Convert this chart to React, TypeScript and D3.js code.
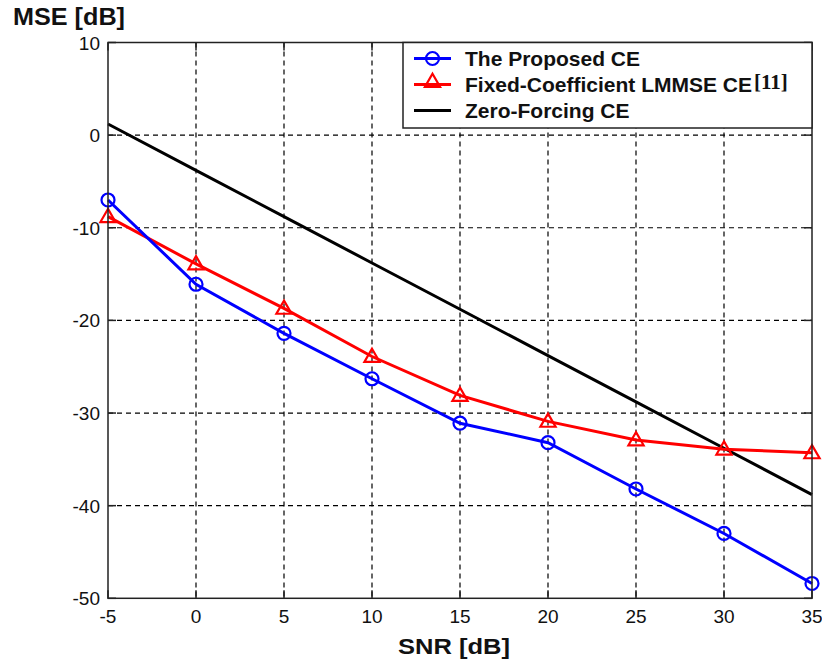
import React from "react";
import * as d3 from "d3";

const snr = [-5, 0, 5, 10, 15, 20, 25, 30, 35];
const proposed = [-7.0, -16.1, -21.4, -26.3, -31.1, -33.2, -38.2, -43.0, -48.4];
const lmmse = [-8.8, -13.9, -18.7, -23.9, -28.1, -30.9, -32.9, -33.9, -34.3];
const zeroForcing = [1.2, -3.8, -8.8, -13.8, -18.8, -23.8, -28.8, -33.8, -38.8];
const xTicks = [-5, 0, 5, 10, 15, 20, 25, 30, 35];
const yTicks = [10, 0, -10, -20, -30, -40, -50];
const legendLabels = ["The Proposed CE", "Fixed-Coefficient LMMSE CE", "Zero-Forcing CE"];
const legendRef = "[11]";

const W = 822, H = 666;
const L = 108, R = 812, T = 42.5, B = 598.3;

export default function App() {
  const x = d3.scaleLinear().domain([-5, 35]).range([L, R]);
  const y = d3.scaleLinear().domain([-50, 10]).range([B, T]);
  const line = d3.line<number>().x((_, i) => x(snr[i])).y((d) => y(d));
  const tri = d3.symbol().type(d3.symbolTriangle).size(100)();
  const sans = "'Liberation Sans', Arial, sans-serif";

  const triPath = (cx: number, cy: number) => (
    <path d={tri as string} transform={`translate(${cx},${cy + 1})`} fill="none" stroke="#ff0000" strokeWidth={2.2} />
  );
  const circ = (cx: number, cy: number) => (
    <circle cx={cx} cy={cy} r={6.5} fill="none" stroke="#0000ff" strokeWidth={2.2} />
  );

  const legY = [58.5, 84.5, 110.5];

  return (
    <svg width={W} height={H} style={{ position: "absolute", left: 0, top: 0, background: "#fff" }}>
      <rect x={0} y={0} width={W} height={H} fill="#fff" />
      {/* grid */}
      {xTicks.slice(1, -1).map((t) => (
        <line key={"gx" + t} x1={x(t)} x2={x(t)} y1={T} y2={B} stroke="#000" strokeWidth={1.2} strokeDasharray="5,4" />
      ))}
      {yTicks.slice(1, -1).map((t) => (
        <line key={"gy" + t} x1={L} x2={R} y1={y(t)} y2={y(t)} stroke="#000" strokeWidth={1.2} strokeDasharray="5,4" />
      ))}
      {/* ticks */}
      {xTicks.map((t) => (
        <g key={"tx" + t}>
          <line x1={x(t)} x2={x(t)} y1={B} y2={B - 8} stroke="#222" strokeWidth={1.5} />
          <line x1={x(t)} x2={x(t)} y1={T} y2={T + 8} stroke="#222" strokeWidth={1.5} />
          <text x={x(t)} y={623} textAnchor="middle" fontFamily={sans} fontSize={19} fill="#111">{t}</text>
        </g>
      ))}
      {yTicks.map((t) => (
        <g key={"ty" + t}>
          <line x1={L} x2={L + 8} y1={y(t)} y2={y(t)} stroke="#222" strokeWidth={1.5} />
          <line x1={R} x2={R - 8} y1={y(t)} y2={y(t)} stroke="#222" strokeWidth={1.5} />
          <text x={100} y={y(t) + 7} textAnchor="end" fontFamily={sans} fontSize={19} fill="#111">{t}</text>
        </g>
      ))}
      {/* series */}
      <path d={line(zeroForcing) as string} fill="none" stroke="#000" strokeWidth={3} />
      <path d={line(lmmse) as string} fill="none" stroke="#ff0000" strokeWidth={3} />
      <path d={line(proposed) as string} fill="none" stroke="#0000ff" strokeWidth={3} />
      {lmmse.map((v, i) => <g key={"m1" + i}>{triPath(x(snr[i]), y(v))}</g>)}
      {proposed.map((v, i) => <g key={"m2" + i}>{circ(x(snr[i]), y(v))}</g>)}
      {/* frame */}
      <rect x={L} y={T} width={R - L} height={B - T} fill="none" stroke="#222" strokeWidth={1.5} />
      {/* legend */}
      <rect x={403} y={T} width={R - 403} height={128 - T} fill="#fff" stroke="#222" strokeWidth={1.5} />
      <line x1={414} x2={451} y1={legY[0]} y2={legY[0]} stroke="#0000ff" strokeWidth={3} />
      {circ(432.5, legY[0])}
      <line x1={414} x2={451} y1={legY[1]} y2={legY[1]} stroke="#ff0000" strokeWidth={3} />
      {triPath(432.5, legY[1] - 3)}
      <line x1={414} x2={451} y1={legY[2]} y2={legY[2]} stroke="#000" strokeWidth={3} />
      {legendLabels.map((s, i) => (
        <text key={"lg" + i} x={465} y={legY[i] + 7.5} fontFamily={sans} fontWeight="bold" fontSize={21} fill="#111">
          {s}
          {i === 1 ? (
            <tspan fontFamily="'Liberation Serif', 'Times New Roman', serif" dx={2} dy={-3}>{legendRef}</tspan>
          ) : null}
        </text>
      ))}
      {/* axis titles */}
      <text x={13} y={25} fontFamily={sans} fontWeight="bold" fontSize={24} textLength={112} lengthAdjust="spacingAndGlyphs" fill="#111">MSE [dB]</text>
      <text x={398} y={654} fontFamily={sans} fontWeight="bold" fontSize={22} textLength={112} lengthAdjust="spacingAndGlyphs" fill="#111">SNR [dB]</text>
    </svg>
  );
}
